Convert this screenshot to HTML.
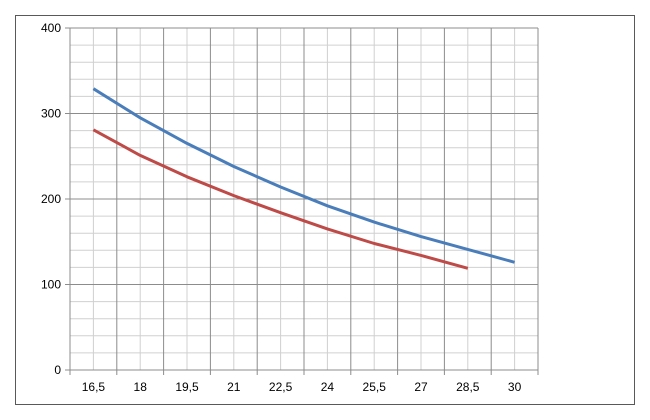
<!DOCTYPE html><html><head><style>body{margin:0;background:#fff}svg{display:block}text{font-family:"Liberation Sans",sans-serif;font-size:12px;fill:#000}</style></head><body>
<svg width="650" height="420" xmlns="http://www.w3.org/2000/svg">
<rect x="15.5" y="15.5" width="619" height="389" fill="#fff" stroke="#595959" stroke-width="1"/>
<g stroke="#d0d0d0" stroke-width="1">
<line x1="70" x2="538" y1="45.1" y2="45.1"/><line x1="70" x2="538" y1="62.2" y2="62.2"/><line x1="70" x2="538" y1="79.3" y2="79.3"/><line x1="70" x2="538" y1="96.4" y2="96.4"/>
<line x1="70" x2="538" y1="130.6" y2="130.6"/><line x1="70" x2="538" y1="147.7" y2="147.7"/><line x1="70" x2="538" y1="164.8" y2="164.8"/><line x1="70" x2="538" y1="181.9" y2="181.9"/>
<line x1="70" x2="538" y1="216.1" y2="216.1"/><line x1="70" x2="538" y1="233.2" y2="233.2"/><line x1="70" x2="538" y1="250.3" y2="250.3"/><line x1="70" x2="538" y1="267.4" y2="267.4"/>
<line x1="70" x2="538" y1="301.6" y2="301.6"/><line x1="70" x2="538" y1="318.7" y2="318.7"/><line x1="70" x2="538" y1="335.8" y2="335.8"/><line x1="70" x2="538" y1="352.9" y2="352.9"/>
<line x1="93.4" x2="93.4" y1="28" y2="370"/><line x1="140.2" x2="140.2" y1="28" y2="370"/><line x1="187" x2="187" y1="28" y2="370"/><line x1="233.8" x2="233.8" y1="28" y2="370"/><line x1="280.6" x2="280.6" y1="28" y2="370"/><line x1="327.4" x2="327.4" y1="28" y2="370"/><line x1="374.2" x2="374.2" y1="28" y2="370"/><line x1="421" x2="421" y1="28" y2="370"/><line x1="467.8" x2="467.8" y1="28" y2="370"/><line x1="514.6" x2="514.6" y1="28" y2="370"/>
</g>
<g stroke="#8c8c8c" stroke-width="1">
<line x1="65" x2="538" y1="28" y2="28"/><line x1="65" x2="538" y1="113.5" y2="113.5"/><line x1="65" x2="538" y1="199" y2="199"/><line x1="65" x2="538" y1="284.5" y2="284.5"/><line x1="65" x2="538" y1="370" y2="370"/>
<line x1="70" x2="70" y1="28" y2="375"/><line x1="116.8" x2="116.8" y1="28" y2="375"/><line x1="163.6" x2="163.6" y1="28" y2="375"/><line x1="210.4" x2="210.4" y1="28" y2="375"/><line x1="257.2" x2="257.2" y1="28" y2="375"/><line x1="304" x2="304" y1="28" y2="375"/><line x1="350.8" x2="350.8" y1="28" y2="375"/><line x1="397.6" x2="397.6" y1="28" y2="375"/><line x1="444.4" x2="444.4" y1="28" y2="375"/><line x1="491.2" x2="491.2" y1="28" y2="375"/><line x1="538" x2="538" y1="28" y2="375"/>
</g>
<g text-anchor="end">
<text x="61" y="32">400</text><text x="61" y="117.5">300</text><text x="61" y="203">200</text><text x="61" y="288.5">100</text><text x="61" y="374">0</text>
</g>
<g text-anchor="middle">
<text x="93.4" y="391">16,5</text><text x="140.2" y="391">18</text><text x="187" y="391">19,5</text><text x="233.8" y="391">21</text><text x="280.6" y="391">22,5</text><text x="327.4" y="391">24</text><text x="374.2" y="391">25,5</text><text x="421" y="391">27</text><text x="467.8" y="391">28,5</text><text x="514.6" y="391">30</text>
</g>
<polyline fill="none" stroke="#4a7ebb" stroke-width="3" stroke-linejoin="round" points="93.4,88.7 140.2,117.8 187,143.4 233.8,166.5 280.6,187 327.4,205.8 374.2,222.1 421,236.6 467.8,249.4 514.6,262.3"/>
<polyline fill="none" stroke="#be4b48" stroke-width="3" stroke-linejoin="round" points="93.4,129.8 140.2,155.4 187,176.8 233.8,195.6 280.6,212.7 327.4,228.9 374.2,243.5 421,255.4 467.8,268.3"/>
</svg></body></html>
